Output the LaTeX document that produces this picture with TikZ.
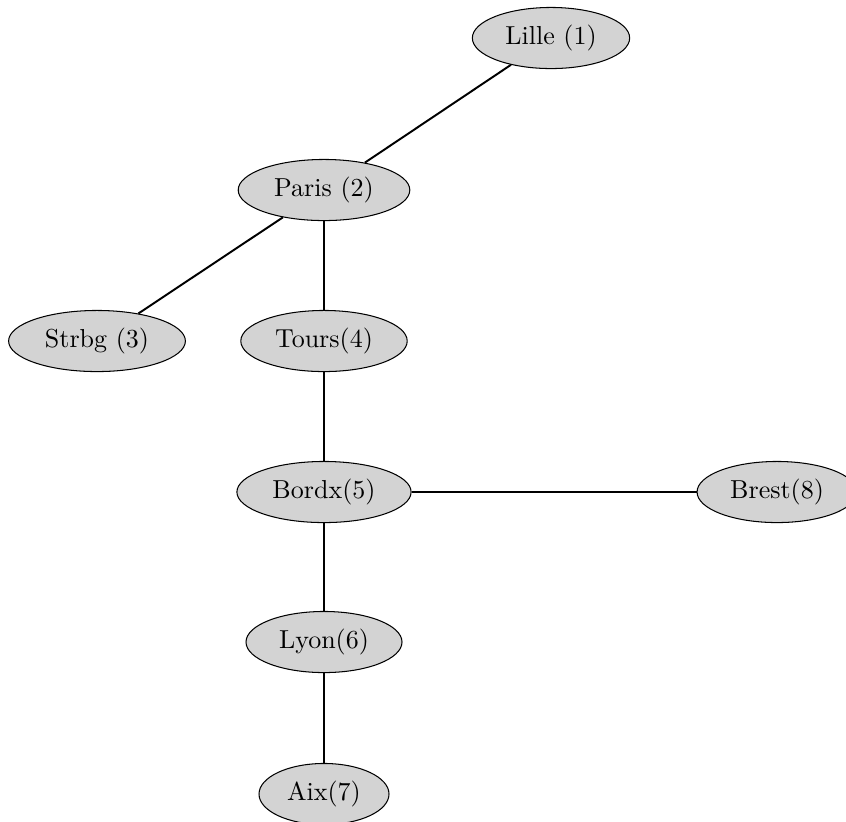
\documentclass[tikz,border=0pt]{standalone}
\usetikzlibrary{shapes.geometric}
\definecolor{nodegray}{HTML}{D3D3D3}
\begin{document}
\begin{tikzpicture}[x=0.3846pt,y=-0.3846pt,
  city/.style={ellipse, draw=black, line width=0.4pt, fill=nodegray,
    minimum height=23.5pt, inner sep=0pt, font=\normalsize},
  road/.style={draw=black, line width=0.75pt}]
  \useasboundingbox (0,0) rectangle (846,821);
  \node[city, minimum width=60.5pt] (lille) at (551,38) {Lille (1)};
  \node[city, minimum width=66pt]   (paris) at (324,190) {Paris (2)};
  \node[city, minimum width=68pt]   (strbg) at (97,341) {Strbg (3)};
  \node[city, minimum width=64pt]   (tours) at (324,341) {Tours(4)};
  \node[city, minimum width=67pt]   (bordx) at (324,492) {Bordx(5)};
  \node[city, minimum width=61.5pt] (brest) at (777,492) {Brest(8)};
  \node[city, minimum width=60pt]   (lyon)  at (324,642) {Lyon(6)};
  \node[city, minimum width=50pt]   (aix)   at (324,794) {Aix(7)};
  \draw[road] (lille) -- (paris);
  \draw[road] (paris) -- (strbg);
  \draw[road] (paris) -- (tours);
  \draw[road] (tours) -- (bordx);
  \draw[road] (bordx) -- (brest);
  \draw[road] (bordx) -- (lyon);
  \draw[road] (lyon) -- (aix);
\end{tikzpicture}
\end{document}
